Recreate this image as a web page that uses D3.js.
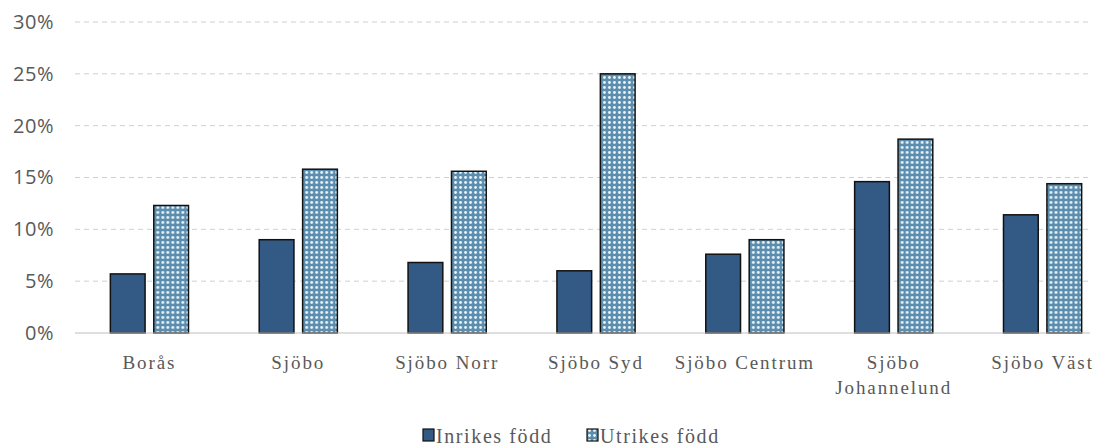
<!doctype html>
<html>
<head>
<meta charset="utf-8">
<title>Inrikes / Utrikes född</title>
<style>
  html, body { margin: 0; padding: 0; background: #fff; }
  svg { display: block; }
</style>
</head>
<body>
<div id="chart"></div>
<script src="https://d3js.org/d3.v7.min.js"></script>
<script>
  // data
  const categories = ["Borås", "Sjöbo", "Sjöbo Norr", "Sjöbo Syd", "Sjöbo Centrum", "Sjöbo\nJohannelund", "Sjöbo Väst"];
  const seriesNames = ["Inrikes född", "Utrikes född"];
  const inrikes = [5.7, 9.0, 6.8, 6.0, 7.6, 14.6, 11.4];
  const utrikes = [12.3, 15.8, 15.6, 25.0, 9.0, 18.7, 14.4];
  const yTicks = [0, 5, 10, 15, 20, 25, 30];

  const width = 1108, height = 448;
  const plotLeft = 75, plotRight = 1090, plotTop = 22, plotBottom = 333;

  const svg = d3.select("#chart").append("svg")
      .attr("width", width)
      .attr("height", height);

  // dotted pattern for utrikes
  const defs = svg.append("defs");
  const pat = defs.append("pattern")
      .attr("id", "dots")
      .attr("patternUnits", "userSpaceOnUse")
      .attr("width", 5)
      .attr("height", 5);
  pat.append("rect").attr("width", 5).attr("height", 5).attr("fill", "#5b8eae");
  pat.append("circle").attr("cx", 2.5).attr("cy", 2.5).attr("r", 1.4).attr("fill", "#eef6fb");

  const x = d3.scaleBand()
      .domain(categories)
      .range([plotLeft, 1117])
      .paddingInner(0.475)
      .paddingOuter(0.2375);

  const x1 = d3.scaleBand()
      .domain(seriesNames)
      .range([0, x.bandwidth()])
      .paddingInner(0.2);

  const y = d3.scaleLinear()
      .domain([0, 30])
      .range([plotBottom, plotTop]);

  // gridlines
  svg.append("g")
    .selectAll("line")
    .data(yTicks.filter(d => d > 0))
    .join("line")
      .attr("x1", plotLeft)
      .attr("x2", plotRight)
      .attr("y1", d => y(d))
      .attr("y2", d => y(d))
      .attr("stroke", "#d0d0d0")
      .attr("stroke-width", 1)
      .attr("stroke-dasharray", "5,4");

  // y axis
  const yAxis = svg.append("g")
      .attr("transform", `translate(${plotLeft},0)`)
      .call(d3.axisLeft(y).tickValues(yTicks).tickFormat(d => d + "%").tickSize(0).tickPadding(21));
  yAxis.select(".domain").remove();
  yAxis.selectAll("text")
      .attr("fill", "#595959")
      .style("font-family", "'Open Sans', sans-serif")
      .style("font-size", "20px")
      .style("letter-spacing", "0.5px");

  // bars
  const groups = svg.append("g")
    .selectAll("g")
    .data(categories)
    .join("g")
      .attr("transform", d => `translate(${x(d)},0)`);

  groups.append("rect")
      .attr("x", x1("Inrikes född"))
      .attr("width", x1.bandwidth())
      .attr("y", (d, i) => y(inrikes[i]))
      .attr("height", (d, i) => y(0) - y(inrikes[i]))
      .attr("fill", "#325a84")
      .attr("stroke", "#111")
      .attr("stroke-width", 1.5);

  groups.append("rect")
      .attr("x", x1("Utrikes född"))
      .attr("width", x1.bandwidth())
      .attr("y", (d, i) => y(utrikes[i]))
      .attr("height", (d, i) => y(0) - y(utrikes[i]))
      .attr("fill", "url(#dots)")
      .attr("stroke", "#111")
      .attr("stroke-width", 1.5);

  // baseline
  svg.append("line")
      .attr("x1", plotLeft)
      .attr("x2", plotRight)
      .attr("y1", y(0))
      .attr("y2", y(0))
      .attr("stroke", "#bfbfbf")
      .attr("stroke-width", 1);

  // x labels
  const xl = svg.append("g")
    .selectAll("text")
    .data(categories)
    .join("text")
      .attr("x", d => x(d) + x.bandwidth() / 2)
      .attr("y", y(0) + 36)
      .attr("text-anchor", "middle")
      .attr("fill", "#595959")
      .style("font-family", "'Liberation Serif', 'DejaVu Serif', serif")
      .style("font-size", "19px")
      .style("letter-spacing", "1.9px");
  xl.each(function(d) {
    const lines = d.split("\n");
    d3.select(this).selectAll("tspan")
      .data(lines)
      .join("tspan")
        .attr("x", d3.select(this).attr("x"))
        .attr("dy", (l, i) => i === 0 ? 0 : 25)
        .text(l => l);
  });

  // legend
  const legendItems = [
    {name: seriesNames[0], fill: "#325a84", x: 423},
    {name: seriesNames[1], fill: "url(#dots)", x: 587}
  ];
  const li = svg.append("g").selectAll("g").data(legendItems).join("g")
      .attr("transform", d => `translate(${d.x},${height - 5})`);
  li.append("rect")
      .attr("x", 0).attr("y", -14)
      .attr("width", 11).attr("height", 12)
      .attr("fill", d => d.fill)
      .attr("stroke", "#111")
      .attr("stroke-width", 1.2);
  li.append("text")
      .attr("x", 13)
      .attr("y", 0)
      .attr("fill", "#595959")
      .style("font-family", "'Liberation Serif', 'DejaVu Serif', serif")
      .style("font-size", "20px")
      .style("letter-spacing", "1.6px")
      .text(d => d.name);
</script>
</body>
</html>
